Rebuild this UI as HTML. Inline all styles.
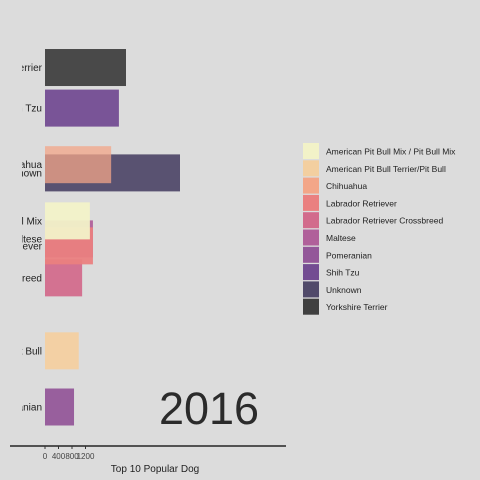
<!DOCTYPE html>
<html><head><meta charset="utf-8"><style>
html,body{margin:0;padding:0;background:#dcdcdc;}
svg{display:block;font-family:"Liberation Sans",sans-serif;}
</style></head><body>
<svg id="chart" width="480" height="480" viewBox="0 0 480 480">
<defs><clipPath id="labclip"><rect x="22" y="0" width="30" height="480"/></clipPath></defs>
<rect x="0" y="0" width="480" height="480" fill="#dcdcdc"/>
<g id="bars"></g>
<g id="ylabels" clip-path="url(#labclip)"></g>
<line x1="10" y1="446" x2="286" y2="446" stroke="#000" stroke-width="1.2"/>
<g id="xticks"></g>
<text x="155" y="472" font-size="10" text-anchor="middle" fill="#222">Top 10 Popular Dog</text>
<text x="209" y="424" font-size="45" text-anchor="middle" fill="#2b2b2b">2016</text>
<g id="legend"></g>
</svg>
<script>
const categories = ["American Pit Bull Mix / Pit Bull Mix","American Pit Bull Terrier/Pit Bull","Chihuahua","Labrador Retriever","Labrador Retriever Crossbreed","Maltese","Pomeranian","Shih Tzu","Unknown","Yorkshire Terrier"];
const values = [1330, 1000, 1960, 1420, 1100, 1420, 860, 2190, 4000, 2400];
const ranks = [5.54, 2.37, 6.91, 4.93, 4.15, 5.1, 1.0, 8.29, 6.71, 9.28];
const colors = ["#f2f2c8","#f3cfa0","#f3a688","#ea8080","#d26b8c","#b0609a","#935799","#734c92","#514a6a","#404040"];
const tickValues = [0, 400, 800, 1200];
const tickLabels = ["0","400","800","1200"];

const ns = "http://www.w3.org/2000/svg";
const x0 = 45, pxPerUnit = 13.5/400;
const xScale = v => x0 + v*pxPerUnit;
const yScale = r => 407 - (r-1)*41;
const barH = 37;

const barsG = document.getElementById('bars');
const labG = document.getElementById('ylabels');
for (let i = categories.length-1; i >= 0; i--) {
  const r = document.createElementNS(ns,'rect');
  const yc = yScale(ranks[i]);
  r.setAttribute('x', xScale(0));
  r.setAttribute('y', yc - barH/2);
  r.setAttribute('width', xScale(values[i]) - xScale(0));
  r.setAttribute('height', barH);
  r.setAttribute('fill', colors[i]);
  r.setAttribute('fill-opacity', i === 2 ? '0.75' : '0.95');
  
  
  barsG.appendChild(r);
}
for (let i = 0; i < categories.length; i++) {
  const t = document.createElementNS(ns,'text');
  t.setAttribute('x', 42);
  t.setAttribute('y', yScale(ranks[i]) + 3.5);
  t.setAttribute('font-size', '10');
  t.setAttribute('text-anchor', 'end');
  t.setAttribute('fill', '#222');
  t.textContent = categories[i];
  
  
  labG.appendChild(t);
}
const xt = document.getElementById('xticks');
tickValues.forEach((v,i) => {
  const l = document.createElementNS(ns,'line');
  l.setAttribute('x1', xScale(v)); l.setAttribute('x2', xScale(v));
  l.setAttribute('y1', 446); l.setAttribute('y2', 449);
  l.setAttribute('stroke', '#333');
  
  
  xt.appendChild(l);
  const t = document.createElementNS(ns,'text');
  t.setAttribute('x', xScale(v)); t.setAttribute('y', 459);
  t.setAttribute('font-size', '8'); t.setAttribute('text-anchor', 'middle');
  t.setAttribute('fill', '#444');
  t.textContent = tickLabels[i];
  
  
  xt.appendChild(t);
});
const lg = document.getElementById('legend');
categories.forEach((c,i) => {
  const y = 143 + i*17.3;
  const r = document.createElementNS(ns,'rect');
  r.setAttribute('x', 303); r.setAttribute('y', y);
  r.setAttribute('width', 16); r.setAttribute('height', 16);
  r.setAttribute('fill', colors[i]);
  
  
  lg.appendChild(r);
  const t = document.createElementNS(ns,'text');
  t.setAttribute('x', 326); t.setAttribute('y', y + 11.5);
  t.setAttribute('font-size', '8.5'); t.setAttribute('fill', '#222');
  t.textContent = c;
  
  
  lg.appendChild(t);
});
</script>
</body></html>
